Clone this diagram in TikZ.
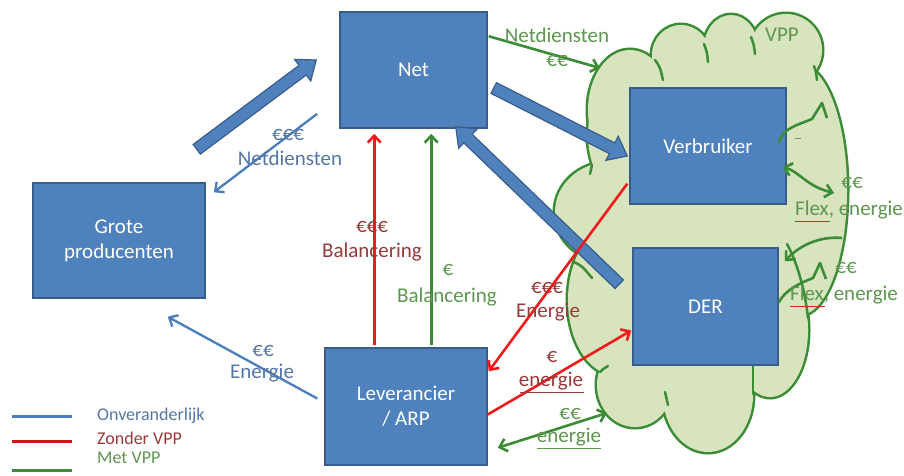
\documentclass[tikz,border=0pt]{standalone}
\usepackage{fontspec}
\setmainfont{Carlito}
\usetikzlibrary{calc,arrows.meta}
\definecolor{boxfill}{HTML}{4F81BD}
\definecolor{boxdraw}{HTML}{385D8A}
\definecolor{cloudfill}{HTML}{D7E4BD}
\definecolor{cloudline}{HTML}{3A8C35}
\definecolor{lred}{HTML}{F01A1A}
\definecolor{lblue}{HTML}{4A7EBB}
\definecolor{lgreen}{HTML}{3A8C35}
\definecolor{tgreen}{HTML}{5E9650}
\definecolor{tred}{HTML}{983A3A}
\definecolor{tblue}{HTML}{5577A6}
\newcommand\blockarr[2]{%
  \coordinate (ba-h) at ($(#2)!17pt!(#1)$);
  \draw[blockarrow] ($(#1)!6pt!90:(#2)$) -- ($(ba-h)!6pt!90:(#2)$) -- ($(ba-h)!13.5pt!90:(#2)$) -- (#2)
    -- ($(ba-h)!13.5pt!-90:(#2)$) -- ($(ba-h)!6pt!-90:(#2)$) -- ($(#1)!6pt!-90:(#2)$) -- cycle;}
\begin{document}
\begin{tikzpicture}[x=1pt,y=-1pt,
  box/.style={draw=boxdraw, fill=boxfill, line width=1.5pt, text=white, align=center,
    font=\fontsize{21}{25}\selectfont, inner sep=0pt},
  blockarrow/.style={draw=boxdraw, fill=boxfill, line width=1.2pt, line join=miter},
  tip/.style={-{Straight Barb[length=7pt,width=13pt]}},
  dtip/.style={{Straight Barb[length=7pt,width=13pt]}-{Straight Barb[length=7pt,width=13pt]}},
  redline/.style={draw=lred, line width=2.6pt},
  blueline/.style={draw=lblue, line width=2.3pt},
  greenline/.style={draw=lgreen, line width=2.6pt},
  cl/.style={draw=cloudline, line width=2.5pt, line cap=round},
  lbl/.style={font=\fontsize{21}{25}\selectfont, inner sep=0pt},
  leg/.style={font=\fontsize{18}{21}\selectfont, inner sep=0pt, anchor=west}]
\useasboundingbox (0,0) rectangle (904,475);
\fill[white] (0,0) rectangle (904,475);

% ---- VPP cloud ----
\def\cloudparts{630/110/42/60, 625/135/37/60, 681/55/29/30, 731/48/27/33, 786/50/36/36,
  800/190/47/125, 770/330/38/67, 708/395/45/57, 635/385/38/42, 615/300/47/75, 610/212/55/50}
\foreach \cx/\cy/\rx/\ry in \cloudparts
  \draw[draw=cloudline, line width=5pt] (\cx,\cy) ellipse [x radius=\rx pt, y radius=\ry pt];
\foreach \cx/\cy/\rx/\ry in \cloudparts
  \fill[cloudfill] (\cx,\cy) ellipse [x radius=\rx pt, y radius=\ry pt];
\fill[cloudfill] (600,90) -- (640,65) -- (790,65) -- (805,90) -- (805,320) -- (760,390)
  -- (640,390) -- (600,340) -- (590,200) -- cycle;
% inner tails of the cloud
\draw[cl] (655,60) .. controls (660,67) .. (663,80);
\draw[cl] (704,44) .. controls (707,52) .. (708,62);
\draw[cl] (751,37) .. controls (754,45) .. (755,54);
\draw[cl] (814,66) .. controls (816,72) .. (817,80);
\draw[cl] (787,244) .. controls (797,262) and (805,290) .. (808,318);
\draw[cl] (753,394) -- (753,364);
\draw[cl] (668,405) .. controls (666,398) .. (665,392);
\draw[cl] (600,372) .. controls (603,369) .. (608,366);
\draw[cl] (574,262) .. controls (582,266) .. (592,278);
\draw[cl] (592,165) .. controls (591,169) .. (590,174);
\node[lbl, text=tgreen] (vpp) at (782,35) {VPP};

% ---- boxes ----
\node[box, minimum width=147pt, minimum height=116pt] (net) at (413.5,70) {Net};
\node[box, minimum width=156pt, minimum height=116pt] (verb) at (708,146) {Verbruiker};
\node[box, minimum width=145pt, minimum height=117pt] (der) at (705.5,306.5) {DER};
\node[box, minimum width=172pt, minimum height=115pt] (grote) at (119,240.5) {Grote\\producenten};
\node[box, minimum width=162pt, minimum height=117pt] (lev) at (406,406.5) {Leverancier\\/ ARP};

% ---- block arrows ----
\coordinate (b1s) at ($(grote.north east)+(-9,-33)$);
\coordinate (b1e) at ($(net.west)+(-23,-10)$);
\blockarr{b1s}{b1e}
\coordinate (b2s) at ($(net.east)+(6,18)$);
\coordinate (b2e) at ($(verb.west)+(-2,10)$);
\blockarr{b2s}{b2e}
\coordinate (b3s) at ($(der.north west)+(-13,37)$);
\coordinate (b3e) at ($(net.south east)+(-32,-2)$);
\blockarr{b3s}{b3e}

% ---- thin arrows ----
\draw[redline, tip] ($(lev.north west)+(50,-2)$) -- ($(net.south west)+(35,5)$);
\draw[greenline, tip] ($(lev.north west)+(107,-2)$) -- ($(net.south west)+(92,5)$);
\draw[blueline, tip] ($(net.south west)+(-22,-15)$) -- ($(grote.north east)+(8,10)$);
\draw[blueline, tip] ($(lev.west)+(-7,-8)$) -- ($(grote.south east)+(-38,18)$);
\draw[redline, tip] ($(verb.south west)+(-2,-21)$) -- ($(lev.north east)+(1,24)$);
\draw[redline, tip] ($(lev.east)+(0,8)$) -- ($(der.west)+(-1,24)$);
\coordinate (cloudA) at (607,413);
\draw[greenline, dtip] ($(lev.south east)+(10,-18)$) -- (cloudA);
\coordinate (cloudB) at (600,68);
\draw[greenline, tip] ($(net.north east)+(1,25)$) -- (cloudB);

% ---- wiggly arrows on the right ----
\draw[greenline, line join=round] ($(verb.east)+(-8,-3)$) .. controls (782,128) and (798,125) .. (812,119) -- (822,103) -- (827,118);
\draw[greenline, dtip] ($(verb.east)+(-4,21)$) .. controls (800,172) and (806,186) .. (834,193);
\draw[draw=gray, line width=0.8pt] (795,138) -- (801,138);
\draw[greenline, tip] (842,238) .. controls (820,236) and (800,245) .. ($(der.north east)+(6,14)$);
\draw[greenline, line join=round] ($(der.east)+(0,-4)$) .. controls (785,290) and (800,283) .. (813,278) -- (820,263) -- (826,279);

% ---- labels ----
\node[lbl, text=tgreen] (l1a) at (557,35) {Netdiensten};
\node[lbl, text=tgreen] (l1b) at (557,61) {€€};
\node[lbl, text=tblue] (l2a) at (288,135) {€€€};
\node[lbl, text=tblue] (l2b) at (290,158) {Netdiensten};
\node[lbl, text=tred] (l3a) at (372,227) {€€€};
\node[lbl, text=tred] (l3b) at (372,252) {Balancering};
\node[lbl, text=tgreen] (l4a) at (448,270) {€};
\node[lbl, text=tgreen] (l4b) at (447,297) {Balancering};
\node[lbl, text=tred] (l5a) at (547,288) {€€€};
\node[lbl, text=tred] (l5b) at (548,312) {Energie};
\node[lbl, text=tred] (l6a) at (552,357) {€};
\node[lbl, text=tred] (l6b) at (551,381) {energie};
\draw[draw=tred, line width=0.6pt] (520,392) -- (584,392);
\node[lbl, text=tgreen] (l7a) at (570,414) {€€};
\node[lbl, text=tgreen] (l7b) at (569,437) {energie};
\draw[draw=tgreen, line width=0.6pt] (537,448) -- (601,448);
\node[lbl, text=tblue] (l8a) at (263,351) {€€};
\node[lbl, text=tblue] (l8b) at (262,373) {Energie};
\node[lbl, text=tgreen] (l9a) at (852,183) {€€};
\node[lbl, text=tgreen] (l9b) at (849,210) {Flex, energie};
\draw[draw=lred, line width=0.6pt] (795,221) -- (830,221);
\node[lbl, text=tgreen] (l10a) at (846,268) {€€};
\node[lbl, text=tgreen] (l10b) at (844,295) {Flex, energie};
\draw[draw=lred, line width=0.6pt] (790,306) -- (825,306);

% ---- legend ----
\coordinate (lg1a) at (12,416); \coordinate (lg1b) at (72,416);
\coordinate (lg2a) at (12,441); \coordinate (lg2b) at (72,441);
\coordinate (lg3a) at (12,470); \coordinate (lg3b) at (72,470);
\draw[blueline, line width=3pt] (lg1a) -- (lg1b);
\draw[redline, line width=3pt, draw=lred!85!black] (lg2a) -- (lg2b);
\draw[greenline, line width=3pt] (lg3a) -- (lg3b);
\node[leg, text=tblue] (g1) at (97,416) {Onveranderlijk};
\node[leg, text=tred] (g2) at (97,438) {Zonder VPP};
\node[leg, text=tgreen] (g3) at (97,458) {Met VPP};
\end{tikzpicture}
\end{document}
